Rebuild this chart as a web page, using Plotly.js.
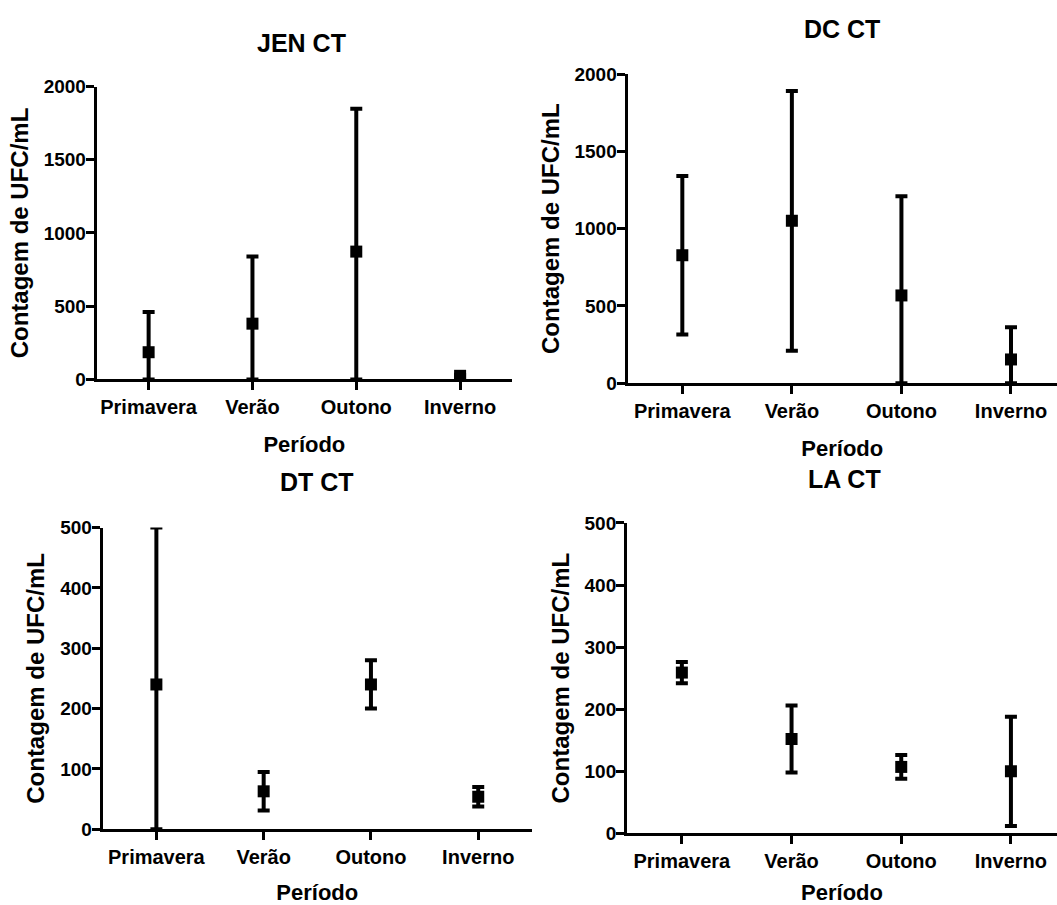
<!DOCTYPE html>
<html>
<head>
<meta charset="utf-8">
<script src="https://cdn.plot.ly/plotly-3.0.1.min.js"></script>
<style>
html,body{margin:0;padding:0;background:#fff;}
#chart{width:1057px;height:905px;}
</style>
</head>
<body>
<div id="chart"></div>
<script>
// ---- data (mean and standard deviation per season) ----
const categories = ['Primavera', 'Verão', 'Outono', 'Inverno'];
const panelTitles = ['JEN CT', 'DC CT', 'DT CT', 'LA CT'];
const xTitle = 'Período';
const yTitle = 'Contagem de UFC/mL';

const jenMean = [186, 381, 873, 25];
const jenSD   = [274, 458, 975, 8];
const dcMean  = [828, 1051, 568, 154];
const dcSD    = [513, 840, 642, 208];
const dtMean  = [240, 63, 240, 54];
const dtSD    = [300, 32, 40, 16];
const laMean  = [259, 152, 107, 100];
const laSD    = [17, 54, 19, 88];

const yMaxTop = 2000;
const yMaxBottom = 500;

// ---- styling ----
const FONT = 'Liberation Sans, Arial, Helvetica, sans-serif';
const BLACK = '#000000';

function makeTrace(idx, mean, sd, ymax) {
  const suffix = idx === 1 ? '' : String(idx);
  // error bars are drawn only inside the axis range, as in the original figure
  const plus = mean.map((m, i) => Math.min(sd[i], ymax - m));
  const minus = mean.map((m, i) => Math.min(sd[i], m));
  return {
    type: 'scatter',
    mode: 'markers',
    x: categories,
    y: mean,
    xaxis: 'x' + suffix,
    yaxis: 'y' + suffix,
    marker: {symbol: 'square', size: 12, color: BLACK, line: {width: 0}},
    error_y: {
      type: 'data', symmetric: false, array: plus, arrayminus: minus,
      color: BLACK, thickness: 4, width: 6
    },
    cliponaxis: false,
    showlegend: false,
    hoverinfo: 'skip'
  };
}

function xAxis(domain, range, anchor) {
  return {
    domain: domain, range: range, anchor: anchor,
    type: 'category', showgrid: false, zeroline: false,
    showline: true, linecolor: BLACK, linewidth: 3,
    ticks: 'outside', ticklen: 8, tickwidth: 3, tickcolor: BLACK,
    tickfont: {family: FONT, size: 20, color: BLACK, weight: 700},
    title: {text: xTitle, font: {family: FONT, size: 22, color: BLACK, weight: 700}, standoff: 20},
    fixedrange: true
  };
}
function yAxis(domain, ymax, dtick, anchor) {
  return {
    domain: domain, range: [0, ymax], anchor: anchor,
    tick0: 0, dtick: dtick, showgrid: false, zeroline: false,
    showline: true, linecolor: BLACK, linewidth: 3,
    ticks: 'outside', ticklen: 8, tickwidth: 3, tickcolor: BLACK,
    ticklabelstandoff: -4,
    tickfont: {family: FONT, size: 19, color: BLACK, weight: 700},
    title: {text: yTitle, font: {family: FONT, size: 24, color: BLACK, weight: 700}, standoff: 9},
    fixedrange: true
  };
}

const data = [
  makeTrace(1, jenMean, jenSD, yMaxTop),
  makeTrace(2, dcMean, dcSD, yMaxTop),
  makeTrace(3, dtMean, dtSD, yMaxBottom),
  makeTrace(4, laMean, laSD, yMaxBottom)
];

const titlePos = [[0.285, 0.952], [0.797, 0.968], [0.300, 0.467], [0.799, 0.471]];

const layout = {
  width: 1057, height: 905,
  margin: {l: 0, r: 0, t: 0, b: 0},
  paper_bgcolor: '#ffffff', plot_bgcolor: '#ffffff',
  font: {family: FONT, color: BLACK},
  xaxis:  xAxis([0.0915, 0.4844], [-0.5, 3.5], 'y'),
  yaxis:  yAxis([0.5807, 0.9044], yMaxTop, 500, 'x'),
  xaxis2: xAxis([0.5937, 1.0], [-0.5, 3.42], 'y2'),
  yaxis2: yAxis([0.5765, 0.9182], yMaxTop, 500, 'x2'),
  xaxis3: xAxis([0.0972, 0.5032], [-0.5, 3.5], 'y3'),
  yaxis3: yAxis([0.0836, 0.4171], yMaxBottom, 100, 'x3'),
  xaxis4: xAxis([0.5932, 1.0], [-0.5, 3.42], 'y4'),
  yaxis4: yAxis([0.0792, 0.4221], yMaxBottom, 100, 'x4'),
  annotations: panelTitles.map((t, i) => ({
    text: t, xref: 'paper', yref: 'paper',
    x: titlePos[i][0], y: titlePos[i][1],
    xanchor: 'center', yanchor: 'middle', showarrow: false,
    font: {family: FONT, size: 25, color: BLACK, weight: 700}
  }))
};

Plotly.newPlot('chart', data, layout, {staticPlot: true, displayModeBar: false});
</script>
</body>
</html>
